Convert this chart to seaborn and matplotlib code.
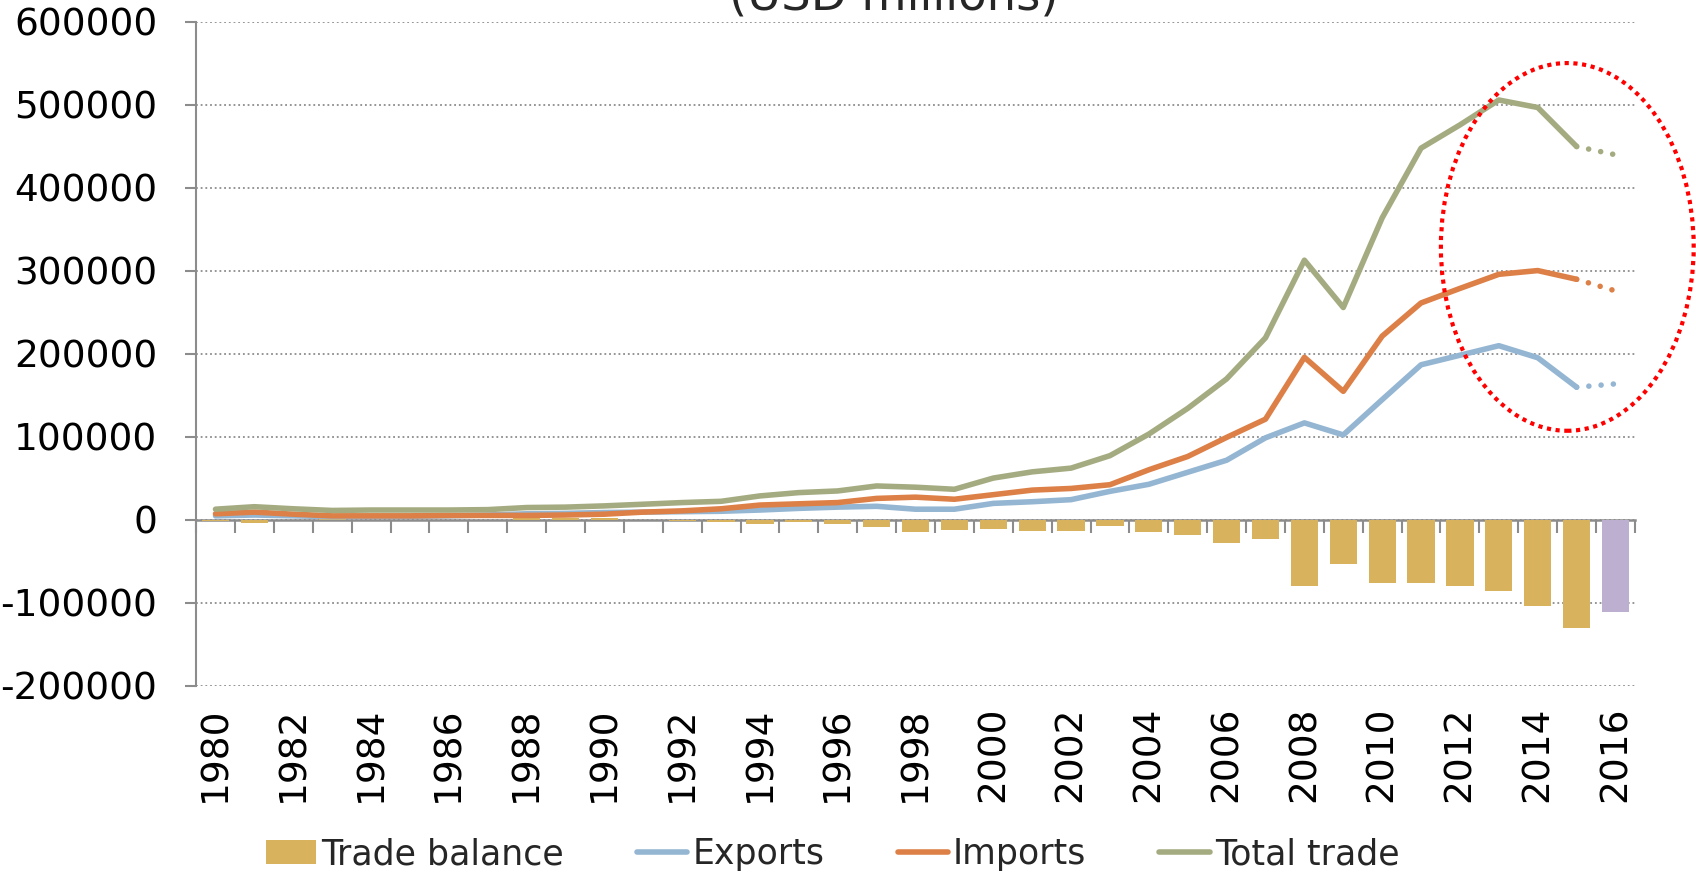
import numpy as np
import pandas as pd
import matplotlib
matplotlib.use("Agg")
import matplotlib.pyplot as plt
from matplotlib.patches import Ellipse, Patch
from matplotlib.lines import Line2D
import seaborn as sns

# Trade figures, USD millions
years = list(range(1980, 2017))
exports = [5000, 6000, 5000, 4000, 4500, 4500, 5000, 6000, 7500, 8000,
           9000, 9500, 10000, 10500, 12000, 14000, 15500, 16500, 13000, 13000,
           20000, 22000, 24500, 34500, 43000, 57500, 72000, 99000, 117000, 102500,
           145000, 187000, 198500, 210000, 195500, 160000, 164000]
imports = [7500, 9500, 7000, 5000, 5000, 5000, 5500, 5500, 5500, 6000,
           7000, 9500, 11000, 13500, 18000, 19500, 21000, 26000, 27500, 25000,
           30500, 36000, 38000, 42500, 60500, 76500, 99500, 121500, 196000, 155000,
           221500, 261500, 279000, 296000, 300500, 290000, 276000]
total_trade = [13000, 16000, 13500, 11500, 12000, 12000, 12000, 12500, 15000, 15500,
               17000, 19000, 21000, 22500, 29000, 33000, 35000, 41000, 39500, 37000,
               50500, 58000, 62500, 77500, 103500, 134500, 170000, 219500, 313000, 256000,
               364000, 448000, 476000, 506000, 497000, 450000, 440000]
trade_balance = [-1000, -3500, 500, 1000, 500, 500, 500, 500, 2500, 2500,
                 2500, 500, -1000, -3000, -5000, -3000, -4500, -9000, -14000, -12000,
                 -11000, -13000, -13000, -7000, -15000, -18000, -28000, -23000, -79000, -53000,
                 -76000, -75500, -80000, -86000, -104000, -130500, -111000]
period = ["actual"] * 36 + ["estimate"]
last_actual = 2015

y_ticks = list(range(-200000, 600001, 100000))
x_labels = years[::2]

gold = "#D8B25C"
purple = "#BCAFCF"
blue = "#94B6D2"
orange = "#DD8047"
green = "#A5AB81"
grey = "#8C8C8C"

sns.set_theme(style="white")
plt.rcParams["font.family"] = ["DejaVu Sans"]
plt.rcParams["axes.unicode_minus"] = False

df = pd.DataFrame({
    "year": years,
    "exports": exports,
    "imports": imports,
    "total": total_trade,
    "balance": trade_balance,
    "period": period,
})

fig = plt.figure(figsize=(16.96, 8.76), dpi=100)
ax = fig.add_axes([0.1156, 0.2169, 0.8484, 0.758])

# dotted horizontal gridlines
ax.set_axisbelow(True)
ax.yaxis.grid(True, color=grey, linestyle=(0, (1, 1.6)), linewidth=1.3)
ax.xaxis.grid(False)

sns.barplot(data=df, x="year", y="balance", hue="period",
            palette={"actual": gold, "estimate": purple}, saturation=1,
            native_scale=True, width=0.7, dodge=False, errorbar=None,
            legend=False, ax=ax, zorder=2, linewidth=0)

lw = 4.0
line_kw = dict(linewidth=lw, solid_joinstyle="round", solid_capstyle="round", zorder=4)
dot_kw = dict(linewidth=lw, linestyle=(0, (0.01, 2.2)), dash_capstyle="round", zorder=4)
solid = df[df["year"] <= last_actual]
proj = df[df["year"] >= last_actual]
for col, colour in [("exports", blue), ("imports", orange), ("total", green)]:
    sns.lineplot(data=solid, x="year", y=col, color=colour, ax=ax, **line_kw)
    sns.lineplot(data=proj, x="year", y=col, color=colour, ax=ax, **dot_kw)

# highlight around the recent years
ax.add_patch(Ellipse((2014.76, 329000), 6.5, 443000, transform=ax.transData,
                     fill=False, edgecolor="#FF0000", linewidth=3.0,
                     linestyle=(0, (1, 1.1)), clip_on=False, zorder=6))

ax.set_xlim(years[0] - 0.5, years[-1] + 0.5)
ax.set_ylim(y_ticks[0], y_ticks[-1])
ax.set_xlabel("")
ax.set_ylabel("")

ax.set_yticks(y_ticks)
ax.set_yticklabels([str(v) for v in y_ticks])
ax.tick_params(axis="y", direction="out", length=8, width=1.5, color=grey,
               pad=20, labelsize=27, labelcolor="black", left=True)

ax.set_xticks(x_labels)
ax.set_xticklabels([str(y) for y in x_labels], rotation=90)
ax.tick_params(axis="x", length=0, pad=15, labelsize=27, labelcolor="black")

for side in ["top", "right", "bottom"]:
    ax.spines[side].set_visible(False)
ax.spines["left"].set_color(grey)
ax.spines["left"].set_linewidth(1.5)

# category axis crossing at zero, ticks between categories
zero_axis = ax.secondary_xaxis(0, transform=ax.transData)
zero_axis.set_xticks([y - 0.5 for y in years] + [years[-1] + 0.5])
zero_axis.set_xticklabels([])
zero_axis.tick_params(direction="out", length=9, width=1.5, color=grey)
zero_axis.spines["bottom"].set_color(grey)
zero_axis.spines["bottom"].set_linewidth(1.8)
for side in ["top", "left", "right"]:
    zero_axis.spines[side].set_visible(False)

fig.text(0.527, 0.9886, "(USD millions)", ha="center", va="baseline", fontsize=33.5)

handles = [
    Patch(facecolor=gold, edgecolor="none"),
    Line2D([], [], color=blue, linewidth=lw),
    Line2D([], [], color=orange, linewidth=lw),
    Line2D([], [], color=green, linewidth=lw),
]
labels = ["Trade balance", "Exports", "Imports", "Total trade"]
fig.legend(handles, labels, loc="center", bbox_to_anchor=(0.491, 0.025), ncol=4,
           frameon=False, fontsize=25, handlelength=1.45, handletextpad=0.15,
           columnspacing=2.1, handleheight=0.7, borderaxespad=0, borderpad=0)

fig.savefig("out.png", dpi=100)
